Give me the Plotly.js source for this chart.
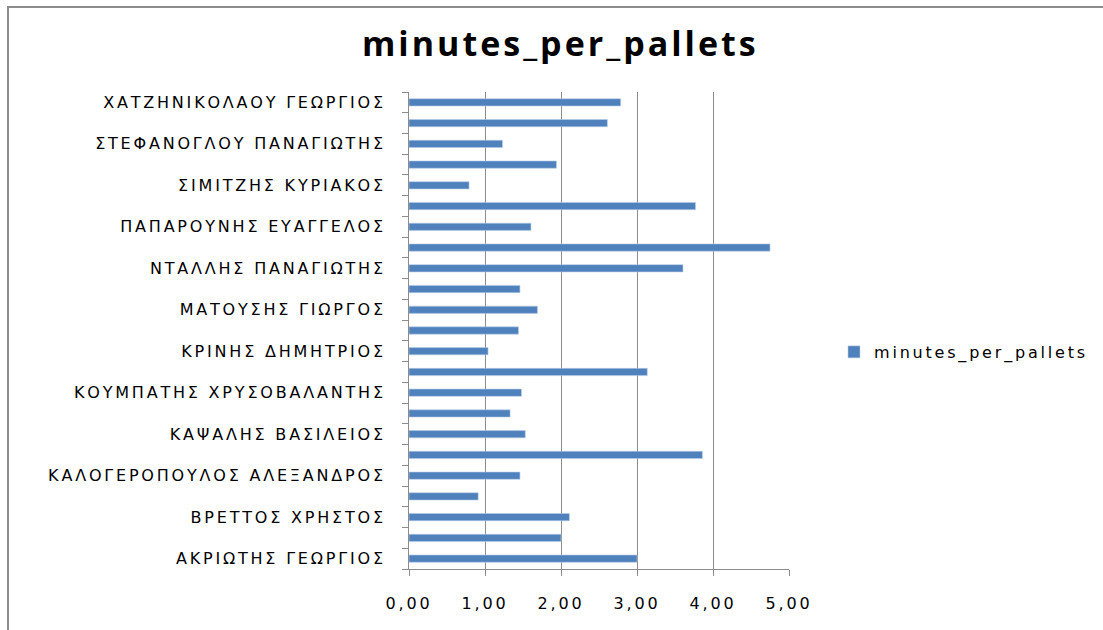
<!DOCTYPE html>
<html>
<head>
<meta charset="utf-8">
<script src="https://cdn.plot.ly/plotly-3.0.1.min.js"></script>
<style>
  html, body { margin: 0; padding: 0; background: #fff; }
  #wrap { position: relative; width: 1103px; height: 630px; overflow: hidden; }
  #chart { position: absolute; left: 0; top: 0; width: 1103px; height: 630px; }
  #frame { position: absolute; left: 7px; top: 6px; width: 1110px; height: 640px;
           border-top: 2px solid #8c8c8c; border-left: 2px solid #8c8c8c; pointer-events: none; }
  #chart .ytick text, #chart .xtick text, #chart .legendtext { letter-spacing: 2.8px; }
  #chart .gtitle { letter-spacing: 3px; }
  #chart .legend, #chart .legend * { clip-path: none !important; }
</style>
</head>
<body>
<div id="wrap"><div id="chart"></div><div id="frame"></div></div>
<script>
// Values, bottom category to top category (23 employees)
const seriesName = "minutes_per_pallets";
const values = [3.00, 2.00, 2.11, 0.91, 1.46, 3.86, 1.53, 1.33, 1.48, 3.135, 1.04, 1.44,
                1.69, 1.46, 3.605, 4.75, 1.605, 3.77, 0.79, 1.94, 1.23, 2.61, 2.785];
// Only every other category label is visible in the chart (positions 0,2,4,...)
const visibleLabels = [
  "ΑΚΡΙΩΤΗΣ ΓΕΩΡΓΙΟΣ",
  "ΒΡΕΤΤΟΣ ΧΡΗΣΤΟΣ",
  "ΚΑΛΟΓΕΡΟΠΟΥΛΟΣ ΑΛΕΞΑΝΔΡΟΣ",
  "ΚΑΨΑΛΗΣ ΒΑΣΙΛΕΙΟΣ",
  "ΚΟΥΜΠΑΤΗΣ ΧΡΥΣΟΒΑΛΑΝΤΗΣ",
  "ΚΡΙΝΗΣ ΔΗΜΗΤΡΙΟΣ",
  "ΜΑΤΟΥΣΗΣ ΓΙΩΡΓΟΣ",
  "ΝΤΑΛΛΗΣ ΠΑΝΑΓΙΩΤΗΣ",
  "ΠΑΠΑΡΟΥΝΗΣ ΕΥΑΓΓΕΛΟΣ",
  "ΣΙΜΙΤΖΗΣ ΚΥΡΙΑΚΟΣ",
  "ΣΤΕΦΑΝΟΓΛΟΥ ΠΑΝΑΓΙΩΤΗΣ",
  "ΧΑΤΖΗΝΙΚΟΛΑΟΥ ΓΕΩΡΓΙΟΣ"
];
const xTicks = [0, 1, 2, 3, 4, 5];

const positions = values.map((v, i) => i);
const labelPositions = visibleLabels.map((l, i) => i * 2);

const labelFont = "'DejaVu Sans', 'Open Sans', sans-serif";
const titleFont = "'Open Sans', 'DejaVu Sans', sans-serif";

const trace = {
  type: "bar",
  orientation: "h",
  name: seriesName,
  x: values,
  y: positions,
  marker: { color: "#4f81bd", line: { color: "#b9cde5", width: 0.6 } },
  showlegend: true,
  hoverinfo: "x"
};

const layout = {
  width: 1103,
  height: 630,
  paper_bgcolor: "rgba(0,0,0,0)",
  plot_bgcolor: "#fff",
  margin: { l: 409, r: 314, t: 92, b: 61 },
  separators: ",.",
  bargap: 0.65,
  title: {
    text: "<b>minutes_per_pallets</b>",
    font: { family: titleFont, size: 34, color: "#000" },
    x: 0.508, xanchor: "center",
    y: 0.93, yanchor: "middle"
  },
  xaxis: {
    range: [0, 5],
    tickvals: xTicks,
    tickformat: ".2f",
    showgrid: true,
    gridcolor: "#8c8c8c",
    gridwidth: 1,
    zeroline: false,
    showline: true,
    linecolor: "#8c8c8c",
    linewidth: 1,
    ticks: "outside",
    ticklen: 6,
    tickcolor: "#8c8c8c",
    ticklabelstandoff: 14,
    tickfont: { family: labelFont, size: 16, color: "#000" },
    fixedrange: true
  },
  yaxis: {
    range: [-0.5, 22.5],
    tickmode: "array",
    tickvals: labelPositions,
    ticktext: visibleLabels,
    ticks: "outside",
    ticklen: 19,
    tickcolor: "rgba(0,0,0,0)",
    showgrid: false,
    zeroline: false,
    showline: true,
    linecolor: "#8c8c8c",
    linewidth: 1,
    minor: { tick0: 0.5, dtick: 1, ticks: "outside", ticklen: 6, tickcolor: "#8c8c8c", showgrid: false },
    tickfont: { family: labelFont, size: 16, color: "#000" },
    fixedrange: true
  },
  legend: {
    x: (834 - 409) / 380, xanchor: "left",
    y: 0.455, yanchor: "middle",
    font: { family: labelFont, size: 16, color: "#000" },
    itemwidth: 30,
    bgcolor: "rgba(0,0,0,0)"
  },
  showlegend: true
};

Plotly.newPlot("chart", [trace], layout, { displayModeBar: false, staticPlot: true });
</script>
</body>
</html>
